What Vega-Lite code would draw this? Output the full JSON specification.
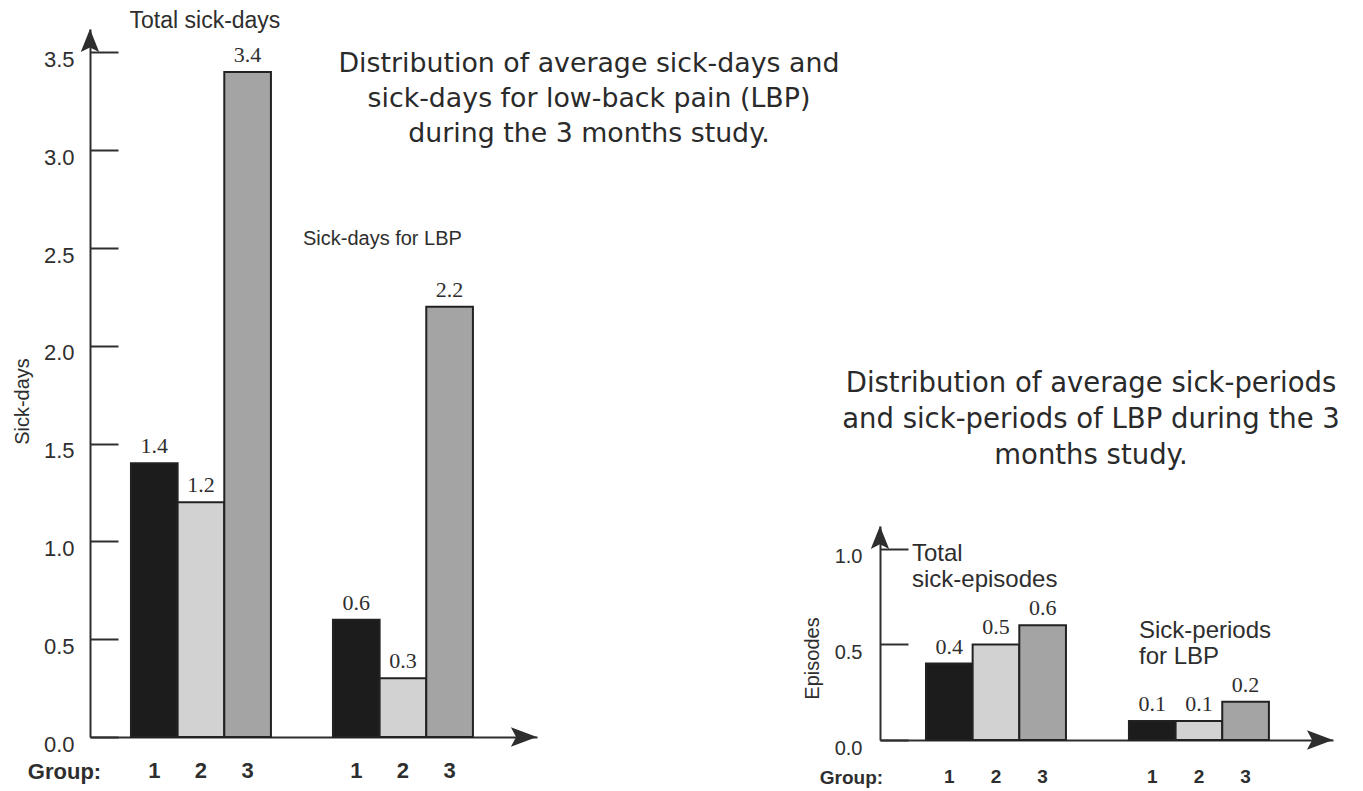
{
  "$schema": "https://vega.github.io/schema/vega-lite/v6.json",
  "background": "#ffffff",
  "padding": {"left": 12, "top": 9, "right": 0, "bottom": 0},
  "config": {"view": {"stroke": null}, "font": "Liberation Sans"},
  "datasets": {
    "days": [
      {"measure": "Total", "group": "1", "value": 1.4},
      {"measure": "Total", "group": "2", "value": 1.2},
      {"measure": "Total", "group": "3", "value": 3.4},
      {"measure": "LBP", "group": "1", "value": 0.6},
      {"measure": "LBP", "group": "2", "value": 0.3},
      {"measure": "LBP", "group": "3", "value": 2.2}
    ],
    "episodes": [
      {"measure": "Total", "group": "1", "value": 0.4},
      {"measure": "Total", "group": "2", "value": 0.5},
      {"measure": "Total", "group": "3", "value": 0.6},
      {"measure": "LBP", "group": "1", "value": 0.1},
      {"measure": "LBP", "group": "2", "value": 0.1},
      {"measure": "LBP", "group": "3", "value": 0.2}
    ]
  },
  "spacing": 343,
  "bounds": "flush",
  "hconcat": [
    {
      "width": 447,
      "height": 708,
      "data": {"name": "days"},
      "layer": [
        {
          "mark": {"type": "bar", "stroke": "#222222", "strokeWidth": 2},
          "encoding": {
            "x": {
              "field": "measure", "type": "nominal",
              "scale": {"domain": ["Total", "LBP"], "paddingInner": 0.307, "paddingOuter": 0.26, "align": 0.39},
              "axis": {
                "labels": false, "ticks": false, "domain": true, "domainWidth": 2, "domainColor": "#2e2e2e",
                "title": "Group:", "titleX": -26, "titleY": 34, "titleAlign": "center", "titleBaseline": "middle",
                "titleFontSize": 22, "titleFontWeight": "bold", "titleFont": "Liberation Sans", "titleColor": "#2e2e2e"
              }
            },
            "xOffset": {"field": "group", "type": "nominal", "scale": {"domain": ["1", "2", "3"], "paddingInner": 0, "paddingOuter": 0}},
            "y": {
              "field": "value", "type": "quantitative",
              "scale": {"domain": [0, 3.62], "nice": false},
              "axis": {
                "values": [0, 0.5, 1, 1.5, 2, 2.5, 3, 3.5], "format": ".1f", "grid": false,
                "tickSize": -28, "tickWidth": 2, "tickColor": "#2e2e2e",
                "domainColor": "#2e2e2e", "domainWidth": 2,
                "labelFont": "Liberation Sans", "labelFontSize": 22, "labelColor": "#2e2e2e",
                "labelPadding": 44, "labelOffset": 7,
                "title": "Sick-days", "titleFont": "Liberation Sans", "titleFontSize": 20, "titleFontWeight": "normal",
                "titleColor": "#2e2e2e", "titleX": -68, "titleY": 372, "titleAngle": -90, "titleAlign": "center", "titleBaseline": "middle"
              }
            },
            "fill": {"field": "group", "type": "nominal", "scale": {"domain": ["1", "2", "3"], "range": ["#1c1c1c", "#d2d2d2", "#a4a4a4"]}, "legend": null}
          }
        },
        {
          "mark": {"type": "text", "font": "Liberation Serif", "fontSize": 22, "baseline": "bottom", "dy": -5, "color": "#2e2e2e"},
          "encoding": {
            "x": {"field": "measure", "type": "nominal"},
            "xOffset": {"field": "group", "type": "nominal"},
            "y": {"field": "value", "type": "quantitative"},
            "text": {"field": "value", "type": "quantitative", "format": ".1f"}
          }
        },
        {
          "mark": {"type": "text", "fontSize": 22, "fontWeight": "bold", "baseline": "middle", "color": "#2e2e2e"},
          "encoding": {
            "x": {"field": "measure", "type": "nominal"},
            "xOffset": {"field": "group", "type": "nominal"},
            "y": {"datum": -0.174, "type": "quantitative"},
            "text": {"field": "group", "type": "nominal"}
          }
        },
        {
          "data": {"values": [{"label": "Total sick-days"}]},
          "mark": {"type": "text", "fontSize": 23, "baseline": "middle", "align": "center", "dx": 4, "color": "#2e2e2e"},
          "encoding": {
            "x": {"datum": "Total", "type": "nominal"},
            "y": {"datum": 3.662, "type": "quantitative"},
            "text": {"field": "label", "type": "nominal"}
          }
        },
        {
          "data": {"values": [{"label": "Sick-days for LBP"}]},
          "mark": {"type": "text", "fontSize": 20, "baseline": "middle", "align": "left", "dx": -100, "color": "#2e2e2e"},
          "encoding": {
            "x": {"datum": "LBP", "type": "nominal"},
            "y": {"datum": 2.547, "type": "quantitative"},
            "text": {"field": "label", "type": "nominal"}
          }
        },
        {
          "data": {"values": [{"label": "Distribution of average sick-days and\nsick-days for low-back pain (LBP)\nduring the 3 months study."}]},
          "mark": {"type": "text", "font": "DejaVu Sans", "fontSize": 26.8, "lineHeight": 35, "lineBreak": "\n", "baseline": "middle", "align": "center", "dx": 186, "color": "#2a2a2a"},
          "encoding": {
            "x": {"datum": "LBP", "type": "nominal"},
            "y": {"datum": 3.442, "type": "quantitative"},
            "text": {"field": "label", "type": "nominal"}
          }
        },
        {
          "data": {"values": [{"arrow": "y"}]},
          "mark": {"type": "point", "shape": "M0,-1L0.8,1L0,0.6L-0.8,1Z", "size": 529, "filled": true, "opacity": 1, "color": "#2e2e2e"},
          "encoding": {
            "x": {"datum": "Total", "type": "nominal", "bandPosition": -0.2929},
            "y": {"datum": 3.561, "type": "quantitative"}
          }
        },
        {
          "data": {"values": [{"arrow": "x"}]},
          "mark": {"type": "point", "shape": "M1,0L-1,0.75L-0.6,0L-1,-0.75Z", "size": 676, "filled": true, "opacity": 1, "color": "#2e2e2e"},
          "encoding": {
            "x": {"datum": "LBP", "type": "nominal", "bandPosition": 1.364},
            "y": {"datum": 0, "type": "quantitative"}
          }
        }
      ]
    },
    {
      "spacing": 20,
      "bounds": "flush",
      "vconcat": [
        {
          "width": 453,
          "height": 477,
          "data": {"values": [{"label": "Distribution of average sick-periods\nand sick-periods of LBP during the 3\nmonths study."}]},
          "mark": {"type": "text", "font": "DejaVu Sans", "fontSize": 27.5, "lineHeight": 36, "lineBreak": "\n", "baseline": "middle", "align": "center", "dx": -15.5, "dy": 116.5, "color": "#2a2a2a"},
          "encoding": {"text": {"field": "label", "type": "nominal"}}
        },
        {
          "width": 453,
          "height": 214,
          "data": {"name": "episodes"},
          "layer": [
            {
              "mark": {"type": "bar", "stroke": "#222222", "strokeWidth": 2},
              "encoding": {
                "x": {
                  "field": "measure", "type": "nominal",
                  "scale": {"domain": ["Total", "LBP"], "paddingInner": 0.31, "paddingOuter": 0.271, "align": 0.418},
                  "axis": {
                    "labels": false, "ticks": false, "domain": true, "domainWidth": 2, "domainColor": "#2e2e2e",
                    "title": "Group:", "titleX": -29, "titleY": 37, "titleAlign": "center", "titleBaseline": "middle",
                    "titleFontSize": 19, "titleFontWeight": "bold", "titleFont": "Liberation Sans", "titleColor": "#2e2e2e"
                  }
                },
                "xOffset": {"field": "group", "type": "nominal", "scale": {"domain": ["1", "2", "3"], "paddingInner": 0, "paddingOuter": 0}},
                "y": {
                  "field": "value", "type": "quantitative",
                  "scale": {"domain": [0, 1.12], "nice": false},
                  "axis": {
                    "values": [0, 0.5, 1], "format": ".1f", "grid": false,
                    "tickSize": -28, "tickWidth": 2, "tickColor": "#2e2e2e",
                    "domainColor": "#2e2e2e", "domainWidth": 2,
                    "labelFont": "Liberation Sans", "labelFontSize": 20, "labelColor": "#2e2e2e",
                    "labelPadding": 46, "labelOffset": 8,
                    "title": "Episodes", "titleFont": "Liberation Sans", "titleFontSize": 20, "titleFontWeight": "normal",
                    "titleColor": "#2e2e2e", "titleX": -68, "titleY": 132, "titleAngle": -90, "titleAlign": "center", "titleBaseline": "middle"
                  }
                },
                "fill": {"field": "group", "type": "nominal", "scale": {"domain": ["1", "2", "3"], "range": ["#1c1c1c", "#d2d2d2", "#a4a4a4"]}, "legend": null}
              }
            },
            {
              "mark": {"type": "text", "font": "Liberation Serif", "fontSize": 22, "baseline": "bottom", "dy": -5, "color": "#2e2e2e"},
              "encoding": {
                "x": {"field": "measure", "type": "nominal"},
                "xOffset": {"field": "group", "type": "nominal"},
                "y": {"field": "value", "type": "quantitative"},
                "text": {"field": "value", "type": "quantitative", "format": ".1f"}
              }
            },
            {
              "mark": {"type": "text", "fontSize": 19, "fontWeight": "bold", "baseline": "middle", "color": "#2e2e2e"},
              "encoding": {
                "x": {"field": "measure", "type": "nominal"},
                "xOffset": {"field": "group", "type": "nominal"},
                "y": {"datum": -0.194, "type": "quantitative"},
                "text": {"field": "group", "type": "nominal"}
              }
            },
            {
              "data": {"values": [{"label": "Total\nsick-episodes"}]},
              "mark": {"type": "text", "fontSize": 24, "lineHeight": 26, "lineBreak": "\n", "baseline": "middle", "align": "left", "dx": -84, "color": "#2e2e2e"},
              "encoding": {
                "x": {"datum": "Total", "type": "nominal"},
                "y": {"datum": 0.974, "type": "quantitative"},
                "text": {"field": "label", "type": "nominal"}
              }
            },
            {
              "data": {"values": [{"label": "Sick-periods\nfor LBP"}]},
              "mark": {"type": "text", "fontSize": 24, "lineHeight": 26, "lineBreak": "\n", "baseline": "middle", "align": "left", "dx": -60, "color": "#2e2e2e"},
              "encoding": {
                "x": {"datum": "LBP", "type": "nominal"},
                "y": {"datum": 0.571, "type": "quantitative"},
                "text": {"field": "label", "type": "nominal"}
              }
            },
            {
              "data": {"values": [{"arrow": "y"}]},
              "mark": {"type": "point", "shape": "M0,-1L0.8,1L0,0.6L-0.8,1Z", "size": 529, "filled": true, "opacity": 1, "color": "#2e2e2e"},
              "encoding": {
                "x": {"datum": "Total", "type": "nominal", "bandPosition": -0.3286},
                "y": {"datum": 1.06, "type": "quantitative"}
              }
            },
            {
              "data": {"values": [{"arrow": "x"}]},
              "mark": {"type": "point", "shape": "M1,0L-1,0.75L-0.6,0L-1,-0.75Z", "size": 676, "filled": true, "opacity": 1, "color": "#2e2e2e"},
              "encoding": {
                "x": {"datum": "LBP", "type": "nominal", "bandPosition": 1.364},
                "y": {"datum": 0, "type": "quantitative"}
              }
            }
          ]
        }
      ]
    }
  ]
}
